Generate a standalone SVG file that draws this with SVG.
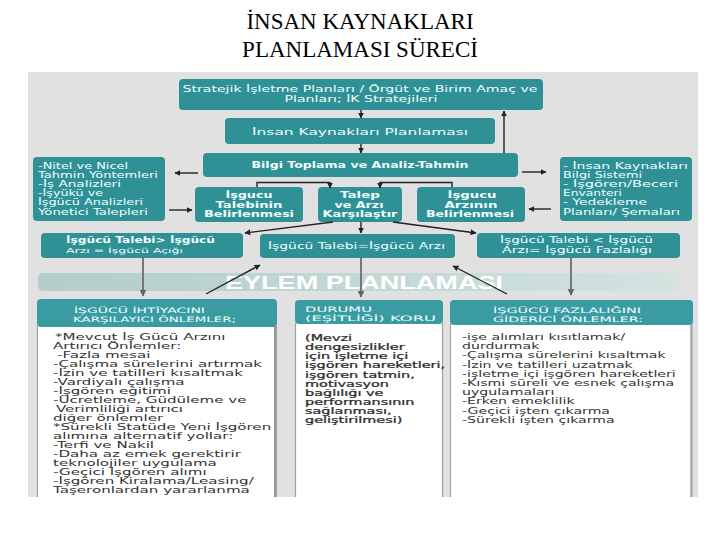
<svg xmlns="http://www.w3.org/2000/svg" width="720" height="540" viewBox="0 0 720 540">
<defs>
<style>
.box{fill:#2f9196}
.hd{fill:#3a9ca2}
.wt{font-family:"DejaVu Sans",sans-serif;fill:#f0ffff}
.bd{font-family:"DejaVu Sans",sans-serif;fill:#333}
.ln{stroke:#222;stroke-width:1.4;fill:none;marker-end:url(#ah)}
.gl{stroke:#777;stroke-width:2;fill:none;marker-end:url(#ahg)}
.bdy{fill:#fff}
.edge{stroke:#a0a0a0;stroke-width:1.2;fill:none}
</style>
<marker id="ah" viewBox="0 0 10 10" refX="9" refY="5" markerWidth="6" markerHeight="6" markerUnits="userSpaceOnUse" orient="auto"><path d="M0,0 L10,5 L0,10 z" fill="#222"/></marker>
<marker id="ahg" viewBox="0 0 10 10" refX="9" refY="5" markerWidth="7" markerHeight="7" markerUnits="userSpaceOnUse" orient="auto"><path d="M0,0 L10,5 L0,10 z" fill="#666"/></marker>
<linearGradient id="bandg" x1="0" y1="0" x2="1" y2="0"><stop offset="0" stop-color="#b2cdca"/><stop offset="1" stop-color="#d2e3e0"/></linearGradient>
</defs>
<rect x="0" y="0" width="720" height="540" fill="#fff"/>
<g id="title" font-family="Liberation Serif, serif" font-size="23" fill="#000" text-anchor="middle">
<text x="360" y="29">İNSAN KAYNAKLARI</text>
<text x="360" y="57">PLANLAMASI SÜRECİ</text>
</g>
<rect x="28" y="72" width="670" height="425" fill="#e1e1e1"/>
<g id="band">
<rect x="38" y="273" width="642" height="18" rx="5" fill="url(#bandg)"/>
<text x="364" y="289" text-anchor="middle" textLength="278" lengthAdjust="spacingAndGlyphs" font-family="Liberation Sans, sans-serif" font-weight="bold" font-size="18" fill="#fff">EYLEM PLANLAMASI</text>
</g>
<g id="n1">
<rect class="box" x="179" y="79" width="364" height="31" rx="4"/>
<text class="wt" x="360" y="92" font-size="8.5" text-anchor="middle" textLength="355" lengthAdjust="spacingAndGlyphs">Stratejik İşletme Planları / Örgüt ve Birim Amaç ve</text>
<text class="wt" x="361" y="102" font-size="8.5" text-anchor="middle" textLength="153" lengthAdjust="spacingAndGlyphs">Planları; İK Stratejileri</text>
</g>
<g id="n2">
<rect class="box" x="225" y="118" width="270" height="26" rx="4"/>
<text class="wt" x="360" y="134.5" font-size="9.5" text-anchor="middle" textLength="216" lengthAdjust="spacingAndGlyphs">İnsan Kaynakları Planlaması</text>
</g>
<g id="n3">
<rect class="box" x="203" y="153" width="315" height="24" rx="4"/>
<text class="wt" x="360" y="167.5" font-size="9" font-weight="bold" text-anchor="middle" textLength="217" lengthAdjust="spacingAndGlyphs">Bilgi Toplama ve Analiz-Tahmin</text>
</g>
<g id="nleft">
<rect class="box" x="33" y="157" width="132" height="64" rx="4"/>
<g class="wt" font-size="8">
<text x="38" y="168.5" textLength="90" lengthAdjust="spacingAndGlyphs">-Nitel ve Nicel</text>
<text x="38" y="177.7" textLength="120" lengthAdjust="spacingAndGlyphs">Tahmin Yöntemleri</text>
<text x="38" y="186.9" textLength="83" lengthAdjust="spacingAndGlyphs">-İş Analizleri</text>
<text x="38" y="196.1" textLength="65" lengthAdjust="spacingAndGlyphs">-İşyükü ve</text>
<text x="38" y="205.3" textLength="105" lengthAdjust="spacingAndGlyphs">İşgücü Analizleri</text>
<text x="38" y="214.5" textLength="110" lengthAdjust="spacingAndGlyphs">Yönetici Talepleri</text>
</g>
</g>
<g id="nright">
<rect class="box" x="560" y="157" width="132" height="64" rx="4"/>
<g class="wt" font-size="8">
<text x="563" y="168.5" textLength="125" lengthAdjust="spacingAndGlyphs">- İnsan Kaynakları</text>
<text x="563" y="177.7" textLength="79" lengthAdjust="spacingAndGlyphs">Bilgi Sistemi</text>
<text x="563" y="186.9" textLength="115" lengthAdjust="spacingAndGlyphs">- İşgören/Beceri</text>
<text x="563" y="196.1" textLength="59" lengthAdjust="spacingAndGlyphs">Envanteri</text>
<text x="563" y="205.3" textLength="84" lengthAdjust="spacingAndGlyphs">- Yedekleme</text>
<text x="563" y="214.5" textLength="117" lengthAdjust="spacingAndGlyphs">Planları/ Şemaları</text>
</g>
</g>
<g id="n4">
<rect class="box" x="195" y="187" width="108" height="35" rx="4"/>
<g class="wt" font-size="8" font-weight="bold" text-anchor="middle">
<text x="249" y="198" textLength="47" lengthAdjust="spacingAndGlyphs">İşgucu</text>
<text x="249" y="207.5" textLength="67" lengthAdjust="spacingAndGlyphs">Talebinin</text>
<text x="249" y="217" textLength="90" lengthAdjust="spacingAndGlyphs">Belirlenmesi</text>
</g>
</g>
<g id="n5">
<rect class="box" x="318" y="187" width="84" height="35" rx="4"/>
<g class="wt" font-size="8" font-weight="bold" text-anchor="middle">
<text x="360" y="198" textLength="40" lengthAdjust="spacingAndGlyphs">Talep</text>
<text x="359" y="207.5" textLength="49" lengthAdjust="spacingAndGlyphs">ve Arzı</text>
<text x="360" y="217" textLength="75" lengthAdjust="spacingAndGlyphs">Karşılaştır</text>
</g>
</g>
<g id="n6">
<rect class="box" x="417" y="187" width="108" height="35" rx="4"/>
<g class="wt" font-size="8" font-weight="bold" text-anchor="middle">
<text x="472" y="198" textLength="49" lengthAdjust="spacingAndGlyphs">İşgucu</text>
<text x="471" y="207.5" textLength="53" lengthAdjust="spacingAndGlyphs">Arzının</text>
<text x="470" y="217" textLength="88" lengthAdjust="spacingAndGlyphs">Belirlenmesi</text>
</g>
</g>
<g id="n7">
<rect class="box" x="41" y="233" width="202" height="25" rx="4"/>
<text class="wt" x="66" y="243" font-size="8.5" font-weight="bold" textLength="149" lengthAdjust="spacingAndGlyphs">İşgücü Talebi&gt; İşgücü</text>
<text class="wt" x="66" y="252.5" font-size="7" textLength="117" lengthAdjust="spacingAndGlyphs">Arzı = İşgücü Açığı</text>
</g>
<g id="n8">
<rect class="box" x="260" y="234" width="195" height="24" rx="4"/>
<text class="wt" x="356.5" y="248.5" font-size="8.5" text-anchor="middle" textLength="177" lengthAdjust="spacingAndGlyphs">İşgücü Talebi=İşgücü Arzı</text>
</g>
<g id="n9">
<rect class="box" x="477" y="233" width="203" height="25" rx="4"/>
<text class="wt" x="576.5" y="243" font-size="8" text-anchor="middle" textLength="153" lengthAdjust="spacingAndGlyphs">İşgücü Talebi &lt; İşgücü</text>
<text class="wt" x="577" y="252.5" font-size="8" text-anchor="middle" textLength="150" lengthAdjust="spacingAndGlyphs">Arzı= İşgücü Fazlalığı</text>
</g>
<g id="col1">
<rect class="bdy" x="37" y="326" width="240" height="171"/>
<path class="edge" d="M37.5,326 V497"/>
<path d="M275.5,326 V497" stroke="#9a9a9a" stroke-width="3"/>
<rect class="hd" x="37" y="299" width="240" height="28" rx="4"/>
<text class="wt" x="74" y="313" font-size="7.5" textLength="131" lengthAdjust="spacingAndGlyphs">İŞGÜCÜ İHTİYACINI</text>
<text class="wt" x="73" y="322" font-size="7.5" textLength="163" lengthAdjust="spacingAndGlyphs">KARŞILAYICI ÖNLEMLER;</text>
<g class="bd" font-size="8.2" transform="translate(53,0) scale(1.84,1)">
<text x="1.1" y="340">*Mevcut İş Gücü Arzını</text>
<text x="0" y="349">Artırıcı Önlemler:</text>
<text x="2.2" y="358">-Fazla mesai</text>
<text x="0" y="367">-Çalışma sürelerini artırmak</text>
<text x="0" y="376">-İzin ve tatilleri kısaltmak</text>
<text x="0" y="385">-Vardiyalı çalışma</text>
<text x="0" y="394">-İşgören eğitimi</text>
<text x="0" y="403">-Ücretleme, Güdüleme ve</text>
<text x="1.6" y="412">Verimliliği artırıcı</text>
<text x="0" y="421">diğer önlemler</text>
<text x="0" y="430">*Sürekli Statüde Yeni İşgören</text>
<text x="0" y="439">alımına alternatif yollar:</text>
<text x="0" y="448">-Terfi ve Nakil</text>
<text x="0" y="457">-Daha az emek gerektirir</text>
<text x="0" y="466">teknolojiler uygulama</text>
<text x="0" y="475">-Geçici İşgören alımı</text>
<text x="0" y="484">-İşgören Kiralama/Leasing/</text>
<text x="0" y="493">Taşeronlardan yararlanma</text>
</g>
</g>
<g id="col2">
<rect class="bdy" x="295" y="323" width="148" height="174"/>
<path class="edge" d="M295.5,323 V497 M442.5,323 V497"/>
<rect class="hd" x="295" y="300" width="148" height="24" rx="4"/>
<text class="wt" x="305" y="311.5" font-size="7.5" textLength="67" lengthAdjust="spacingAndGlyphs">DURUMU</text>
<text class="wt" x="305" y="320.5" font-size="7.5" textLength="131" lengthAdjust="spacingAndGlyphs">(EŞİTLİĞİ) KORU</text>
<g class="bd" font-size="8.5" transform="translate(305,0) scale(1.7,1)" fill="#222" stroke="#222" stroke-width="0.25">
<text x="0" y="341">(Mevzi</text>
<text x="0" y="350.1">dengesizlikler</text>
<text x="0" y="359.3">için işletme içi</text>
<text x="0" y="368.4">işgören hareketleri,</text>
<text x="0" y="377.6">işgören tatmin,</text>
<text x="0" y="386.7">motivasyon</text>
<text x="0" y="395.9">bağlılığı ve</text>
<text x="0" y="405">performansının</text>
<text x="0" y="414.2">sağlanması,</text>
<text x="0" y="423.3">geliştirilmesi)</text>
</g>
</g>
<g id="col3">
<rect class="bdy" x="450" y="324" width="243" height="173"/>
<path class="edge" d="M450.5,324 V497"/>
<path d="M691.5,324 V497" stroke="#a8a8a8" stroke-width="2.5"/>
<rect class="hd" x="450" y="300" width="243" height="25" rx="4"/>
<text class="wt" x="567" y="313" font-size="7.5" text-anchor="middle" textLength="148" lengthAdjust="spacingAndGlyphs">İŞGÜCÜ FAZLALIĞINI</text>
<text class="wt" x="568" y="321.5" font-size="7.5" text-anchor="middle" textLength="150" lengthAdjust="spacingAndGlyphs">GİDERİCİ ÖNLEMLER:</text>
<g class="bd" font-size="8.3" transform="translate(462,0) scale(1.7,1)">
<text x="0" y="340">-işe alımları kısıtlamak/</text>
<text x="0" y="349.2">durdurmak</text>
<text x="0" y="358.4">-Çalışma sürelerini kısaltmak</text>
<text x="0" y="367.6">-İzin ve tatilleri uzatmak</text>
<text x="0" y="376.8">-işletme içi işgören hareketleri</text>
<text x="0" y="386">-Kısmi süreli ve esnek çalışma</text>
<text x="0" y="395.2">uygulamaları</text>
<text x="0" y="404.4">-Erken emeklilik</text>
<text x="0" y="413.6">-Geçici işten çıkarma</text>
<text x="0" y="422.8">-Sürekli işten çıkarma</text>
</g>
</g>
<g id="connectors">
<path class="ln" d="M361,110 V118"/>
<path class="ln" d="M361,144 V153"/>
<path class="ln" d="M504,153 V111"/>
<path class="ln" d="M198,173 H175"/>
<path class="ln" d="M169,210 H192"/>
<path class="ln" d="M522,172 H546"/>
<path class="ln" d="M551,209 H529"/>
<path class="ln" d="M257,187 V182.5 H330 V188"/>
<path class="ln" d="M452,187 V182.5 H380 V188"/>
<path class="ln" d="M361,222 V233"/>
<path class="ln" d="M333,222 L245,233"/>
<path class="ln" d="M393,222 L476,233"/>
<path class="gl" d="M143,258 V296"/>
<path class="gl" d="M361,258 V297"/>
<path class="gl" d="M571,258 V295"/>
<path class="ln" d="M206,294 L260,265"/>
<path class="ln" d="M507,294 L453,266"/>
</g>
</svg>
